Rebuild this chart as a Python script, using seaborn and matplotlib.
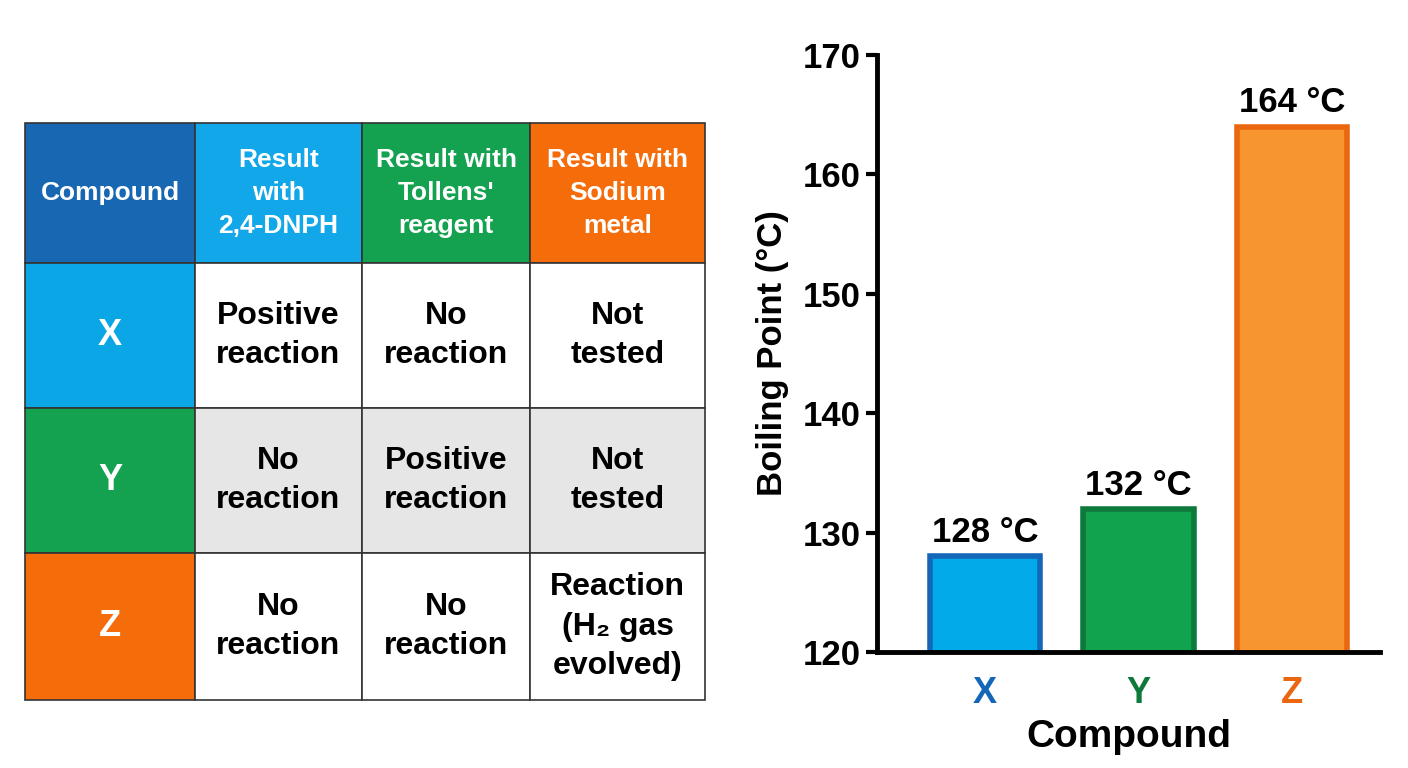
import matplotlib
matplotlib.use("Agg")
import matplotlib.pyplot as plt
import seaborn as sns
import pandas as pd
from matplotlib.patches import Rectangle

compounds = ["X", "Y", "Z"]
boiling_points = [128, 132, 164]
headers = ["Compound", "Result\nwith\n2,4-DNPH", "Result with\nTollens'\nreagent", "Result with\nSodium\nmetal"]
results = [
    ["Positive\nreaction", "No\nreaction", "Not\ntested"],
    ["No\nreaction", "Positive\nreaction", "Not\ntested"],
    ["No\nreaction", "No\nreaction", "Reaction\n(H\u2082 gas\nevolved)"],
]
header_colors = ["#1767B3", "#12A7E8", "#14A150", "#F56C0B"]
row_colors = ["#0AA6E6", "#14A150", "#F56C0B"]
bar_fill = ["#02AAE9", "#12A34F", "#F7962F"]
bar_edge = ["#1466B8", "#0D7A3B", "#EA660F"]

sns.set_style("white")
plt.rcParams["font.family"] = ["Liberation Sans", "DejaVu Sans"]
plt.rcParams["font.weight"] = "bold"
plt.rcParams["text.color"] = "black"
plt.rcParams["axes.labelcolor"] = "black"
plt.rcParams["xtick.color"] = "black"
plt.rcParams["ytick.color"] = "black"

fig = plt.figure(figsize=(14.08, 7.68), dpi=100)

# table drawn in pixel coordinates
ax_t = fig.add_axes([25 / 1408, 68 / 768, 680 / 1408, 577 / 768])
ax_t.set_xlim(0, 680)
ax_t.set_ylim(577, 0)
ax_t.axis("off")
col_x = [0, 170, 337, 505, 680]
row_y = [0, 140, 285, 430, 577]
for j in range(4):
    ax_t.add_patch(Rectangle((col_x[j], row_y[0]), col_x[j + 1] - col_x[j], row_y[1] - row_y[0],
                             facecolor=header_colors[j], edgecolor="#333333", lw=1.2, clip_on=False))
    ax_t.text((col_x[j] + col_x[j + 1]) / 2, (row_y[0] + row_y[1]) / 2, headers[j],
              ha="center", va="center", color="white", fontsize=19, fontweight="bold", linespacing=1.45)
for i in range(3):
    y0, y1 = row_y[i + 1], row_y[i + 2]
    ax_t.add_patch(Rectangle((col_x[0], y0), col_x[1] - col_x[0], y1 - y0,
                             facecolor=row_colors[i], edgecolor="#333333", lw=1.2, clip_on=False))
    ax_t.text((col_x[0] + col_x[1]) / 2, (y0 + y1) / 2, compounds[i], ha="center", va="center",
              color="white", fontsize=26, fontweight="bold")
    for j in range(3):
        fc = "#E6E6E6" if i == 1 else "white"
        ax_t.add_patch(Rectangle((col_x[j + 1], y0), col_x[j + 2] - col_x[j + 1], y1 - y0,
                                 facecolor=fc, edgecolor="#333333", lw=1.2, clip_on=False))
        ax_t.text((col_x[j + 1] + col_x[j + 2]) / 2, (y0 + y1) / 2, results[i][j], ha="center",
                  va="center", color="black", fontsize=23, fontweight="bold", linespacing=1.4)

# bar chart
ax = fig.add_axes([877 / 1408, 116 / 768, 503 / 1408, 597 / 768])
df = pd.DataFrame({"Compound": compounds, "bp": boiling_points})
sns.barplot(data=df, x="Compound", y="bp", hue="Compound", palette=bar_fill, legend=False,
            width=0.72, saturation=1, ax=ax)
for patch, ec in zip(ax.patches, bar_edge):
    patch.set_edgecolor(ec)
    patch.set_linewidth(4)
for k, v in enumerate(boiling_points):
    ax.text(k, v + 0.6, f"{v} °C", ha="center", va="bottom", fontsize=25, fontweight="bold")
ax.set_ylim(120, 170)
ax.set_xlim(-0.706, 2.575)
ax.set_yticks(range(120, 171, 10))
ax.tick_params(axis="y", labelsize=25, length=8, width=3, direction="out", left=True)
ax.tick_params(axis="x", labelsize=26, length=0, pad=17)
for lab, c in zip(ax.get_xticklabels(), bar_edge):
    lab.set_color(c)
    lab.set_fontweight("bold")
for lab in ax.get_yticklabels():
    lab.set_fontweight("bold")
for s in ["top", "right"]:
    ax.spines[s].set_visible(False)
for s in ["left", "bottom"]:
    ax.spines[s].set_linewidth(3.5)
    ax.spines[s].set_color("black")
ax.set_ylabel("Boiling Point (°C)", fontsize=25, fontweight="bold", labelpad=10)
ax.set_xlabel("Compound", fontsize=28, fontweight="bold", labelpad=6)

fig.savefig("out.png", dpi=100)
